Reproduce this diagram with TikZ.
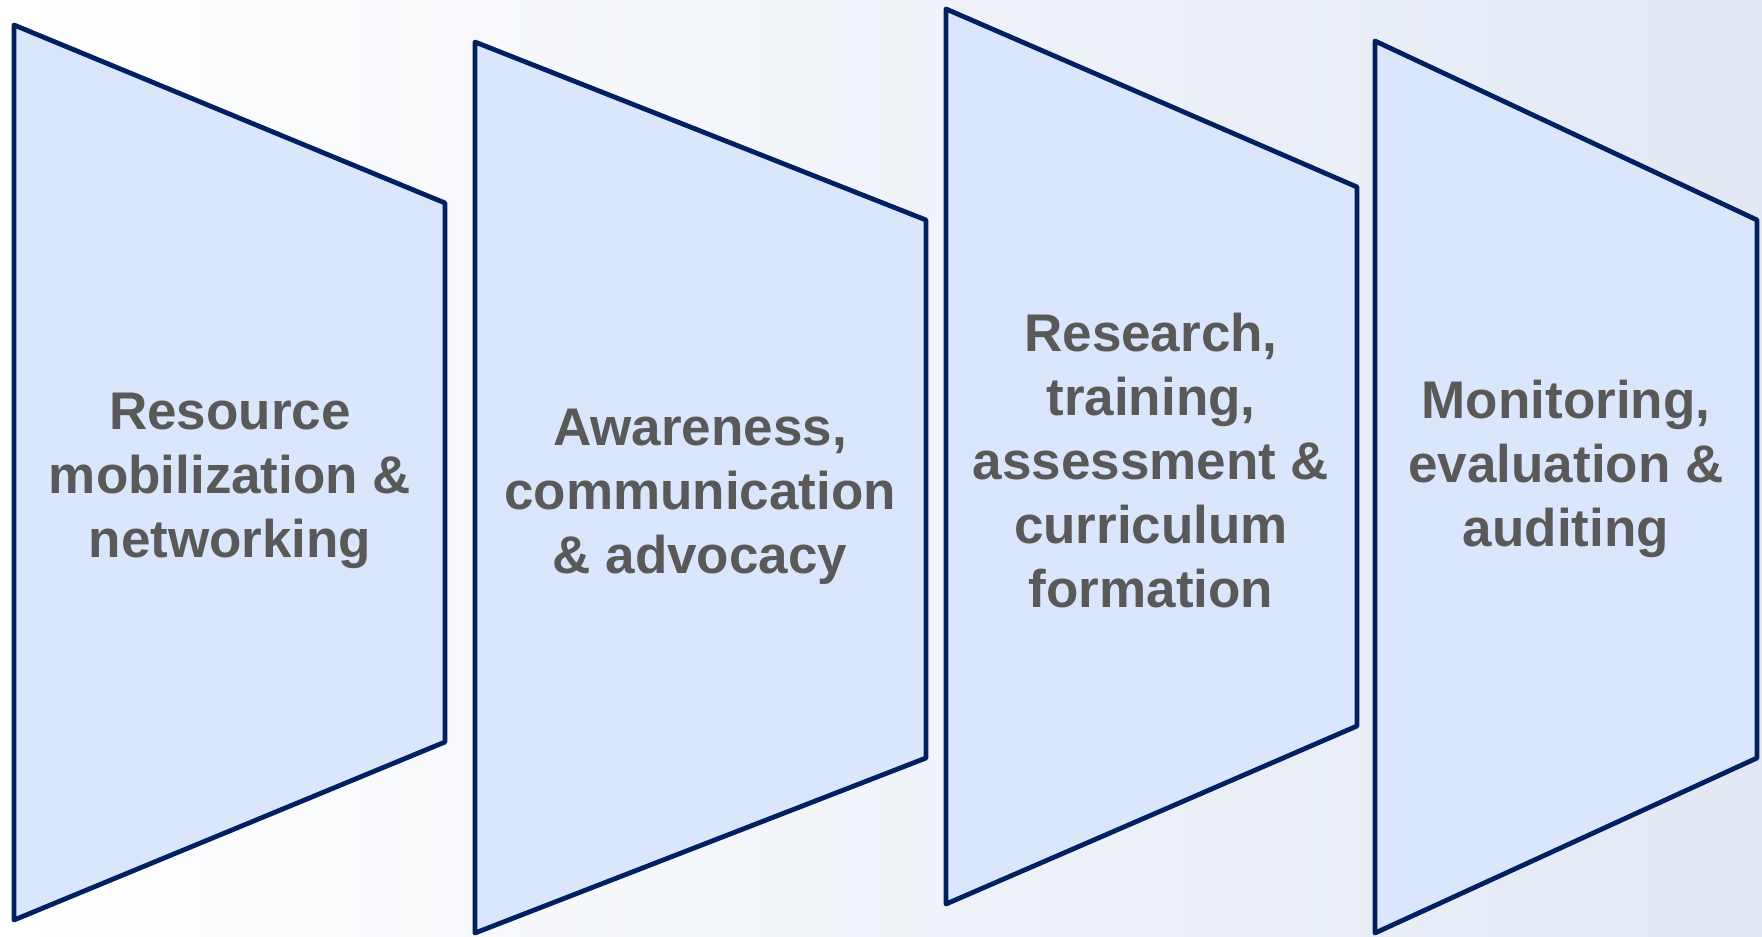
\documentclass[tikz,border=0pt]{standalone}
\usepackage{fontspec}
\setmainfont{Liberation Sans}
\definecolor{edge}{HTML}{002060}
\definecolor{panel}{HTML}{D9E6FC}
\definecolor{txt}{HTML}{595959}
\definecolor{bgright}{HTML}{E2E9F4}
\tikzset{
  panelshape/.style={draw=edge, fill=panel, line width=2.4pt, line join=round},
  label/.style={text=txt, align=center, font=\bfseries\fontsize{26.5}{32}\selectfont, inner sep=0pt}
}
\begin{document}
\begin{tikzpicture}[x=0.5pt,y=-0.5pt]
\useasboundingbox (0,0) rectangle (1762,937);
\shade[left color=white, right color=bgright] (0,0) rectangle (1762,937);
% panels
\draw[panelshape] (14,25) -- (445,203) -- (445,742) -- (14,920) -- cycle;
\draw[panelshape] (475,42) -- (926,220) -- (926,758) -- (475,933) -- cycle;
\draw[panelshape] (946,9) -- (1357,187) -- (1357,726) -- (946,904) -- cycle;
\draw[panelshape] (1375,41) -- (1757,220) -- (1757,758) -- (1375,933) -- cycle;
% labels
\node[label] (t1) at (230,481) {Resource\\mobilization \&\\networking};
\node[label] (t2) at (700,497) {Awareness,\\communication\\\& advocacy};
\node[label] (t3) at (1151,461) {Research,\\training,\\assessment \&\\curriculum\\formation};
\node[label] (t4) at (1566,469) {Monitoring,\\evaluation \&\\auditing};
\end{tikzpicture}
\end{document}
